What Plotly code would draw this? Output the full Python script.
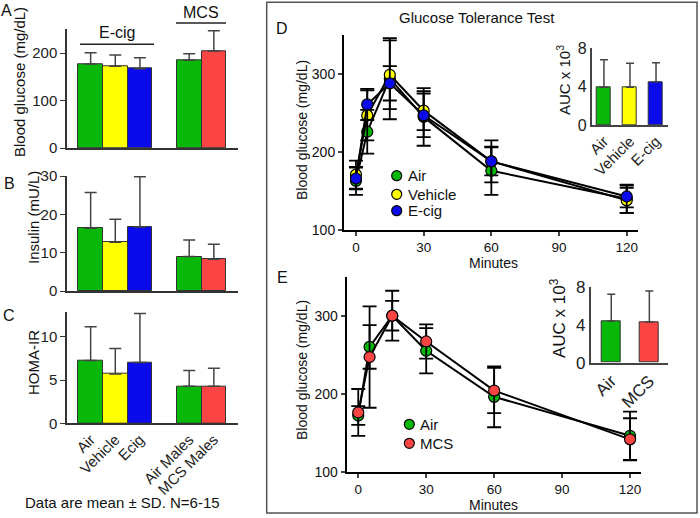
import plotly.graph_objects as go

W, H = 700, 518
def fx(p): return p / W
def fy(p): return 1 - p / H

FONT = "Liberation Sans, Arial, Helvetica, sans-serif"
GREEN, YELLOW, BLUE, RED = "#08b808", "#ffff00", "#0a0aeb", "#fb4545"

# ---------------- Left panels (A, B, C) ----------------
groups = ["Air", "Vehicle", "Ecig", "Air Males", "MCS Males"]
group_pos = [0, 1, 2, 4, 5]
group_colors = [GREEN, YELLOW, BLUE, GREEN, RED]

glucose_mean = [177, 172, 167, 185, 204]
glucose_sd = [23.5, 24, 23, 13.5, 43]
insulin_mean = [16.4, 12.7, 16.7, 9.0, 8.3]
insulin_sd = [9.3, 6.0, 13.1, 4.3, 3.9]
homa_mean = [7.27, 5.7, 7.04, 4.27, 4.27]
homa_sd = [3.9, 2.95, 5.66, 1.83, 2.08]

# ---------------- GTT panels (D, E) ----------------
minutes = [0, 5, 15, 30, 60, 120]
d_series = ["Air", "Vehicle", "E-cig"]
d_colors = [GREEN, YELLOW, BLUE]
d_air = [163, 226, 294, 245, 176, 140]
d_air_sd = [18, 28, 52, 37, 31, 18]
d_veh = [171, 247, 299, 253, 188, 138]
d_veh_sd = [18, 32, 44, 25, 18, 16]
d_ecig = [166, 261, 288, 247, 188, 143]
d_ecig_sd = [14, 20, 22, 28, 27, 14]

d_auc = [3.95, 3.95, 4.5]
d_auc_sd = [2.85, 2.5, 2.0]

e_series = ["Air", "MCS"]
e_colors = [GREEN, RED]
e_air = [172, 260, 300, 255, 196, 146]
e_air_sd = [12, 28, 32, 29, 39, 31]
e_mcs = [176, 247, 300, 267, 204, 141.5]
e_mcs_sd = [30, 65, 19, 22, 29, 27]

e_auc = [4.42, 4.32]
e_auc_sd = [2.83, 3.28]

fig = go.Figure()

def bar_trace(x, y, sd, colors, xa, ya, width=1.0, cap=6, th=1.5):
    return go.Bar(
        x=x, y=y, width=width,
        marker=dict(color=colors, line=dict(color="#333", width=1)),
        error_y=dict(type="data", symmetric=False, array=sd, arrayminus=[0] * len(sd),
                     color="#444", thickness=th, width=cap),
        xaxis=xa, yaxis=ya, showlegend=False, hoverinfo="skip")

fig.add_trace(bar_trace(group_pos, glucose_mean, glucose_sd, group_colors, "x", "y"))
fig.add_trace(bar_trace(group_pos, insulin_mean, insulin_sd, group_colors, "x2", "y2"))
fig.add_trace(bar_trace(group_pos, homa_mean, homa_sd, group_colors, "x3", "y3"))

for name, vals, sd, col in zip(d_series, [d_air, d_veh, d_ecig], [d_air_sd, d_veh_sd, d_ecig_sd], d_colors):
    fig.add_trace(go.Scatter(
        x=minutes, y=vals, name=name, mode="lines+markers",
        line=dict(color="black", width=2),
        marker=dict(size=11, color=col, line=dict(color="black", width=1.2)),
        error_y=dict(type="data", array=sd, color="black", thickness=1.8, width=7),
        xaxis="x4", yaxis="y4", showlegend=False))

fig.add_trace(bar_trace([0, 1, 2], d_auc, d_auc_sd, d_colors, "x5", "y5", width=0.54, cap=4))

for name, vals, sd, col in zip(e_series, [e_air, e_mcs], [e_air_sd, e_mcs_sd], e_colors):
    fig.add_trace(go.Scatter(
        x=minutes, y=vals, name=name, mode="lines+markers",
        line=dict(color="black", width=2),
        marker=dict(size=11, color=col, line=dict(color="black", width=1.2)),
        error_y=dict(type="data", array=sd, color="black", thickness=1.8, width=7),
        xaxis="x6", yaxis="y6", showlegend=False))

fig.add_trace(bar_trace([0, 1], e_auc, e_auc_sd, e_colors, "x7", "y7", width=0.5, cap=4))

base = dict(showgrid=False, zeroline=False, fixedrange=True, automargin=False)
tickf_left = dict(family=FONT, size=15, color="#222")
tickf_d = dict(family=FONT, size=14, color="#111")
tickf_dx = dict(family=FONT, size=13.5, color="#111")

def left_x(anchor, show_labels=False):
    d = dict(base, domain=[fx(67), fx(238)], range=[-0.96, 5.98], anchor=anchor,
             showline=True, linecolor="#333", linewidth=1.5, ticks="")
    if show_labels:
        d.update(tickvals=group_pos, ticktext=groups, tickangle=-45, tickfont=tickf_left)
    else:
        d.update(showticklabels=False)
    return d

def left_y(anchor, dom, rng, tv):
    return dict(base, domain=dom, range=rng, anchor=anchor, tickvals=tv,
                showline=True, linecolor="#333", linewidth=1.5, ticks="outside",
                ticklen=5, tickcolor="#333", tickfont=tickf_left)

layout = dict(
    width=W, height=H, margin=dict(l=0, r=0, t=0, b=0, autoexpand=False),
    paper_bgcolor="white", plot_bgcolor="rgba(0,0,0,0)",
    font=dict(family=FONT, color="#111"), bargap=0,
    xaxis=left_x("y"),
    yaxis=left_y("x", [fy(148), fy(29.25)], [0, 250], [0, 100, 200]),
    xaxis2=left_x("y2"),
    yaxis2=left_y("x2", [fy(291), fy(176)], [0, 30], [0, 10, 20, 30]),
    xaxis3=left_x("y3", True),
    yaxis3=left_y("x3", [fy(423.3), fy(311.7)], [0, 12.9], [0, 5, 10]),
    xaxis4=dict(base, domain=[fx(344), fx(638)], range=[-5.3, 125], anchor="y4",
                tickvals=[0, 30, 60, 90, 120], ticks="outside", ticklen=4, tickwidth=1.5,
                showline=True, linecolor="black", linewidth=2, tickfont=tickf_dx),
    yaxis4=dict(base, domain=[fy(230), fy(35)], range=[100, 350], anchor="x4",
                tickvals=[100, 200, 300], ticks="outside", ticklen=4, tickwidth=1.5,
                showline=True, linecolor="black", linewidth=2, tickfont=tickf_d),
    xaxis5=dict(base, domain=[fx(591.7), fx(668)], range=[-0.47, 2.46], anchor="y5",
                tickvals=[0, 1, 2], ticktext=d_series, tickangle=-45, ticks="",
                showline=True, linecolor="#444", linewidth=1.5, tickfont=tickf_left),
    yaxis5=dict(base, domain=[fy(125), fy(48.3)], range=[0, 8], anchor="x5",
                tickvals=[0, 4, 8], ticks="", showline=True, linecolor="#444",
                linewidth=1.5, tickfont=dict(family=FONT, size=16, color="#222")),
    xaxis6=dict(base, domain=[fx(346.7), fx(640.7)], range=[-5.1, 124.7], anchor="y6",
                tickvals=[0, 30, 60, 90, 120], ticks="outside", ticklen=4, tickwidth=1.5,
                showline=True, linecolor="black", linewidth=2, tickfont=tickf_dx),
    yaxis6=dict(base, domain=[fy(471.7), fy(276.7)], range=[100, 350], anchor="x6",
                tickvals=[100, 200, 300], ticks="outside", ticklen=4, tickwidth=1.5,
                showline=True, linecolor="black", linewidth=2, tickfont=tickf_d),
    xaxis7=dict(base, domain=[fx(590.7), fx(668)], range=[-0.54, 1.49], anchor="y7",
                tickvals=[0, 1], ticktext=e_series, tickangle=-45, ticks="",
                showline=True, linecolor="#444", linewidth=1.5,
                tickfont=dict(family=FONT, size=17, color="#222")),
    yaxis7=dict(base, domain=[fy(362.7), fy(287.3)], range=[0, 8], anchor="x7",
                tickvals=[0, 4, 8], ticks="", showline=True, linecolor="#444",
                linewidth=1.5, tickfont=dict(family=FONT, size=17, color="#222")),
)
fig.update_layout(**layout)

ann = []
def text(x, y, s, size=15, angle=0, xanchor="center", yanchor="middle", color="#111"):
    ann.append(dict(x=fx(x), y=fy(y), xref="paper", yref="paper", text=s, showarrow=False,
                    textangle=angle, xanchor=xanchor, yanchor=yanchor,
                    font=dict(family=FONT, size=size, color=color)))

# panel letters
text(6, 11, "A", 16); text(9, 183, "B", 16); text(9, 315, "C", 16)
text(282, 28, "D", 16); text(282, 277, "E", 16)
# left y titles
text(19, 82, "Blood glucose (mg/dL)", 15, -90)
text(33, 218, "Insulin (mU/L)", 15, -90)
text(33, 363, "HOMA-IR", 15, -90)
# brackets text
text(117, 33, "E-cig", 16)
text(201, 13, "MCS", 16)
# footer
text(122, 502, "Data are mean ± SD. N=6-15", 15)
# D / E texts
text(477, 17, "Glucose Tolerance Test", 15)
text(302, 130, "Blood glucose (mg/dL)", 14, -90)
text(493, 263, "Minutes", 14)
text(302, 370, "Blood glucose (mg/dL)", 14, -90)
text(493, 505, "Minutes", 14)
text(563, 80, "AUC x 10<sup>3</sup>", 15, -90)
text(558, 318, "AUC x 10<sup>3</sup>", 17, -90)

shapes = [
    dict(type="rect", xref="paper", yref="paper", x0=fx(266.7), y0=fy(513), x1=fx(697), y1=fy(2.3),
         line=dict(color="#555", width=1.5)),
    dict(type="line", xref="paper", yref="paper", x0=fx(80), x1=fx(154), y0=fy(44.3), y1=fy(44.3),
         line=dict(color="#222", width=1.5)),
    dict(type="line", xref="paper", yref="paper", x0=fx(176), x1=fx(226), y0=fy(23), y1=fy(23),
         line=dict(color="#222", width=1.5)),
]

def legend_item(x, y, color, label):
    shapes.append(dict(type="circle", xref="paper", yref="paper", xsizemode="pixel", ysizemode="pixel",
                       xanchor=fx(x), yanchor=fy(y), x0=-5, x1=5, y0=-5, y1=5,
                       fillcolor=color, line=dict(color="black", width=1.2)))
    text(x + 9, y, label, 15, xanchor="left")

for yy, col, lab in zip([175.7, 194.3, 210.7], d_colors, d_series):
    legend_item(396.7, yy, col, lab)
for yy, col, lab in zip([424.3, 443.3], e_colors, e_series):
    legend_item(409.3, yy, col, lab)

fig.update_layout(annotations=ann, shapes=shapes)
fig.write_html("out.html", config={"displayModeBar": False},
               post_script="document.body.style.margin='0';document.body.style.overflow='hidden';")
